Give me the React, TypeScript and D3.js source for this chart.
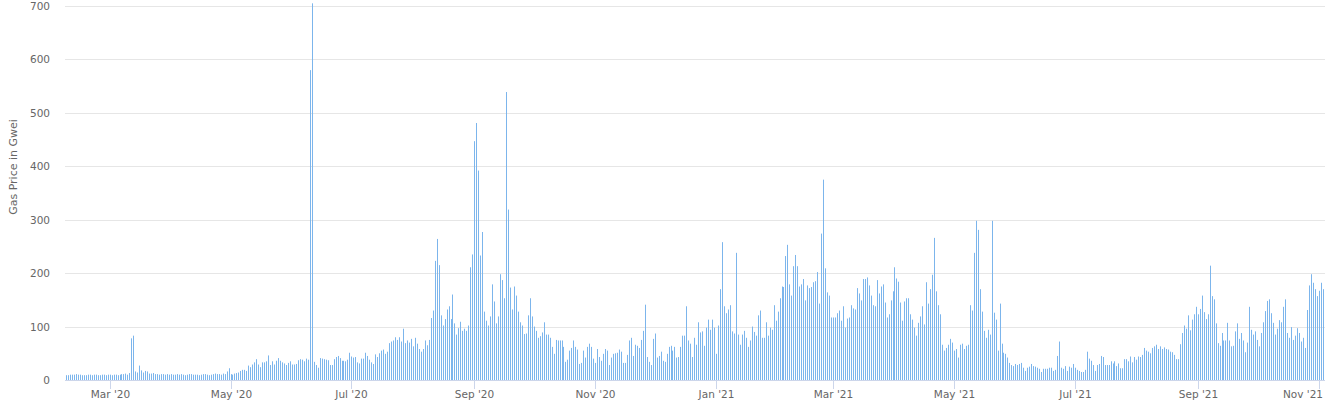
import React, { useEffect } from 'react';
import * as d3 from 'd3';

// ---- data ----
const START_DATE = '2020-02-08';
const gasPrice: number[] = [
  // Feb 8 - Apr 30 2020
  9,9,10,10,10,11,10,10,9,9,9,10,10,9,10,10,9,9,10,10,9,10,
  10,9,10,10,9,10,11,11,12,10,13,
  78,83,
  16,14,27,18,14,17,16,12,12,13,11,11,10,11,11,10,11,10,
  11,10,10,11,10,11,10,9,10,11,11,10,10,10,9,10,11,11,10,9,10,11,12,11,11,10,12,11,
  16,22,
  // May - early Jun 2020
  11,10,12,13,14,17,19,19,17,27,24,29,33,39,29,24,33,33,35,46,28,35,29,36,41,36,33,31,28,32,35,29,29,30,37,39,38,35,40,
  38,580,705,34,28,23,
  // mid Jun - Aug 2020
  41,40,39,38,37,28,28,39,43,45,41,36,36,35,38,51,44,42,43,33,31,40,40,51,45,38,33,30,48,43,50,55,57,49,53,69,72,74,80,75,80,72,96,69,74,70,77,63,79,68,58,53,58,74,65,75,116,130,223,264,215,121,102,114,132,138,114,160,
  // Aug - Oct 2020
  106,85,97,109,92,96,92,102,211,235,447,481,392,233,277,128,111,102,119,179,147,106,119,198,187,153,539,319,173,132,175,158,128,108,102,86,87,121,153,119,100,92,79,82,89,108,85,85,79,62,49,75,74,74,74,62,34,38,55,60,74,62,57,30,32,55,
  // Oct - Dec 2020
  42,62,68,62,40,32,58,43,36,49,58,55,28,42,49,50,51,57,53,32,32,47,74,79,45,66,64,60,75,92,141,43,34,28,77,87,42,45,53,36,34,49,62,64,55,62,42,43,62,83,83,138,74,68,43,79,66,108,89,91,64,98,113,94,113,
  // Dec 2020 - Mar 2021
  98,49,102,170,258,138,125,132,140,91,87,238,85,66,85,92,79,62,74,100,90,83,121,130,79,79,108,83,98,94,140,111,128,153,175,174,232,253,179,158,213,234,213,175,179,189,149,177,172,174,183,185,202,143,274,375,209,164,158,117,117,117,125,130,111,138,
  // Mar - May 2021
  98,115,117,140,134,132,172,162,149,189,189,192,177,158,140,138,187,162,175,179,145,117,123,149,166,211,190,184,145,111,147,153,153,123,113,98,83,107,119,138,104,183,143,170,197,266,166,140,123,66,55,60,66,77,70,55,58,42,66,68,58,64,66,140,130,
  // May - Jul 2021
  238,298,281,170,128,92,79,94,85,298,126,113,55,143,68,51,49,42,32,28,26,30,28,30,32,23,17,23,25,30,26,25,23,21,15,21,21,21,23,23,17,19,45,72,23,21,26,17,25,23,30,23,19,17,15,15,19,53,40,36,28,17,28,30,45,43,
  // Jul - Nov 2021
  28,28,28,35,31,35,26,31,22,22,39,39,35,44,33,43,38,44,43,47,60,55,53,50,60,63,66,58,63,58,61,58,57,53,52,47,39,39,67,88,102,96,121,93,113,123,137,123,133,158,127,114,123,214,157,151,106,69,64,88,74,74,107,74,63,64,91,106,77,88,74,52,70,137,94,85,91,75,63,88,108,129,148,151,125,107,85,96,112,108,137,151,88,79,99,75,83,97,88,72,79,60,131,177,198,182,170,157,167,182,170,
];
const yTicks = [0, 100, 200, 300, 400, 500, 600, 700];
const yTitle = 'Gas Price in Gwei';

const W = 1332;
const H = 414;
const FONT = '"DejaVu Sans", Verdana, sans-serif';

export default function App() {
  useEffect(() => {
    document.body.style.margin = '0';
  }, []);

  const start = d3.utcParse('%Y-%m-%d')(START_DATE) as Date;
  const dates = gasPrice.map((_, i) => d3.utcDay.offset(start, i));
  const last = dates[dates.length - 1];

  const plotLeft = 65;
  const plotRight = 1325;
  const x = d3.scaleUtc().domain([start, last]).range([66, 1322.6]);
  const y = d3.scaleLinear().domain([0, 700]).range([380, 6]);
  const base = y(0);

  const monthTicks = (d3.utcMonth.every(2) as d3.CountableTimeInterval).range(d3.utcMonth.ceil(start), last);
  const fmt = d3.utcFormat("%b '%y");

  return (
    <svg width={W} height={H} style={{ position: 'absolute', left: 0, top: 0, display: 'block', background: '#fff' }}>
      {yTicks.map((t) => (
        <g key={t}>
          {t > 0 && (
            <line x1={plotLeft} x2={plotRight} y1={Math.round(y(t)) + 0.5} y2={Math.round(y(t)) + 0.5} stroke="#e6e6e6" strokeWidth={1} />
          )}
          <text x={50} y={y(t) + 4} textAnchor="end" fontFamily={FONT} fontSize={10.5} fill="#666666">
            {t}
          </text>
        </g>
      ))}
      <text
        transform={`translate(17,167) rotate(-90)`}
        textAnchor="middle"
        fontFamily={FONT}
        fontSize={11}
        fill="#666666"
      >
        {yTitle}
      </text>

      {gasPrice.map((v, i) => {
        const top = y(v);
        return (
          <rect
            key={i}
            x={Math.round(x(dates[i]))}
            y={top}
            width={1}
            height={base - top}
            fill="#7cb5ec"
          />
        );
      })}

      <line x1={plotLeft} x2={plotRight} y1={base + 0.5} y2={base + 0.5} stroke="#ccd6eb" strokeWidth={1} />
      {monthTicks.map((d) => {
        const px = Math.round(x(d)) + 0.5;
        const overflow = px + 20 > plotRight;
        return (
          <g key={d.toISOString()}>
            <line x1={px} x2={px} y1={base} y2={base + 9} stroke="#ccd6eb" strokeWidth={1} />
            <text
              x={overflow ? plotRight - 2 : px}
              y={base + 18}
              textAnchor={overflow ? 'end' : 'middle'}
              fontFamily={FONT}
              fontSize={10.5}
              fill="#666666"
            >
              {fmt(d)}
            </text>
          </g>
        );
      })}
    </svg>
  );
}
